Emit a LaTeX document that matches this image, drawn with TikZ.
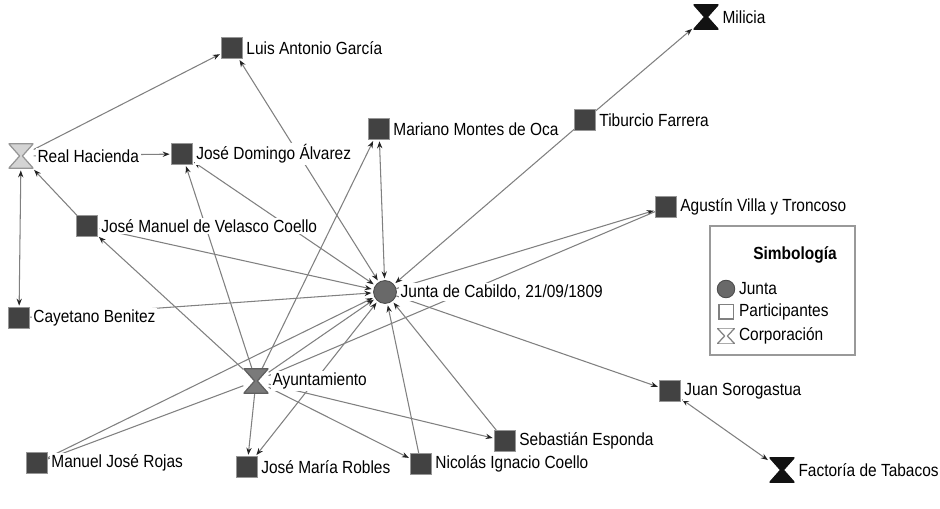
\documentclass[tikz,border=0pt]{standalone}
\usepackage{fontspec}
\setmainfont{Liberation Sans}[FakeStretch=0.88]
\usetikzlibrary{arrows.meta, positioning, backgrounds}
\definecolor{edgegray}{RGB}{128,128,128}
\definecolor{tipgray}{RGB}{35,35,35}
\definecolor{partfill}{RGB}{66,66,66}
\definecolor{partdraw}{RGB}{150,150,150}
\definecolor{juntafill}{RGB}{105,105,105}
\definecolor{juntadraw}{RGB}{75,75,75}
\definecolor{ayufill}{RGB}{122,122,122}
\definecolor{ayudraw}{RGB}{95,95,95}
\definecolor{hacfill}{RGB}{212,212,212}
\definecolor{hacdraw}{RGB}{150,150,150}
\definecolor{corpdark}{RGB}{18,18,18}
\tikzset{
  partic/.style={rectangle, fill=partfill, draw=partdraw, line width=0.5pt,
    minimum size=11.5pt, inner sep=0pt},
  junta/.style={circle, fill=juntafill, draw=juntadraw, line width=0.5pt,
    minimum size=13pt, inner sep=0pt},
  corp/.style 2 args={rectangle, minimum width=14pt, minimum height=14pt, inner sep=0pt,
    path picture={\filldraw[fill=#1, draw=#2, line width=0.7pt, line join=round]
      (path picture bounding box.north west) -- (path picture bounding box.north east)
      -- ([xshift=0.8pt]path picture bounding box.center)
      -- (path picture bounding box.south east) -- (path picture bounding box.south west)
      -- ([xshift=-0.8pt]path picture bounding box.center) -- cycle;}},
  lbl/.style={fill=white, inner sep=1pt, font=\fontsize{10}{12}\selectfont},
  link/.style={draw=edgegray, line width=0.6pt},
  arrow/.style={link, -{Stealth[length=4pt, width=3pt, color=tipgray]}, shorten >=1pt},
  twoway/.style={link, {Stealth[length=4pt, width=3pt, color=tipgray]}-{Stealth[length=4pt, width=3pt, color=tipgray]},
    shorten >=1pt, shorten <=1pt},
}

\begin{document}
\begin{tikzpicture}[x=0.02cm, y=-0.02cm]

  \useasboundingbox (0,0) rectangle (940,509);

  % Nodes
  \node[partic] (lag) at (232,48)  {};
  \node[lbl, right=1pt of lag] (lag-l) {Luis Antonio García};
  \node[corp={corpdark}{corpdark}] (mil) at (706,17) {};
  \node[lbl, right=1pt of mil] (mil-l) {Milicia};
  \node[corp={hacfill}{hacdraw}] (rh) at (21,156) {};
  \node[lbl, right=1pt of rh] (rh-l) {Real Hacienda};
  \node[partic] (jda) at (182,154) {};
  \node[lbl, right=1pt of jda] (jda-l) {José Domingo Álvarez};
  \node[partic] (mar) at (379,129) {};
  \node[lbl, right=1pt of mar] (mar-l) {Mariano Montes de Oca};
  \node[partic] (tib) at (585,120) {};
  \node[lbl, right=1pt of tib] (tib-l) {Tiburcio Farrera};
  \node[partic] (agu) at (666,207) {};
  \node[lbl, right=1pt of agu] (agu-l) {Agustín Villa y Troncoso};
  \node[partic] (vel) at (87,226)  {};
  \node[lbl, right=1pt of vel] (vel-l) {José Manuel de Velasco Coello};
  \node[junta] (jun) at (385,292) {};
  \node[lbl, right=1pt of jun] (jun-l) {Junta de Cabildo, 21/09/1809};
  \node[partic] (cay) at (19,318)  {};
  \node[lbl, right=1pt of cay] (cay-l) {Cayetano Benitez};
  \node[corp={ayufill}{ayudraw}] (ayu) at (256,381) {};
  \node[lbl, right=1pt of ayu] (ayu-l) {Ayuntamiento};
  \node[partic] (jua) at (670,391) {};
  \node[lbl, right=1pt of jua] (jua-l) {Juan Sorogastua};
  \node[partic] (seb) at (505,441) {};
  \node[lbl, right=1pt of seb] (seb-l) {Sebastián Esponda};
  \node[partic] (mjr) at (37,463)  {};
  \node[lbl, right=1pt of mjr] (mjr-l) {Manuel José Rojas};
  \node[partic] (rob) at (247,467) {};
  \node[lbl, right=1pt of rob] (rob-l) {José María Robles};
  \node[partic] (nic) at (421,464) {};
  \node[lbl, right=1pt of nic] (nic-l) {Nicolás Ignacio Coello};
  \node[corp={corpdark}{corpdark}] (fac) at (782,470) {};
  \node[lbl, right=1pt of fac] (fac-l) {Factoría de Tabacos};

  % Legend
  \node[draw=gray!80, line width=0.6pt, minimum width=2.9cm, minimum height=2.58cm] (leg) at (782.5,290.5) {};
  \node[lbl, font=\fontsize{10}{12}\selectfont\bfseries] (leg-t) at (795,255) {Simbología};
  \node[junta, minimum size=10pt] (leg-j) at (726,289) {};
  \node[lbl, right=1pt of leg-j] (leg-jl) {Junta};
  \node[rectangle, draw=gray, line width=0.6pt, minimum size=8pt, inner sep=0pt] (leg-p) at (726,312) {};
  \node[lbl, right=2pt of leg-p] (leg-pl) {Participantes};
  \node[corp={white}{gray}, minimum width=10pt, minimum height=9pt] (leg-c) at (726,336) {};
  \node[lbl, right=1pt of leg-c] (leg-cl) {Corporación};

  % Arrows
  \begin{scope}[on background layer]
    \fill[white] (0,0) rectangle (940,509);
    \foreach \a/\b in {rh/lag, rh/jda, vel/rh, tib/mil, tib/jun, cay/jun, mjr/jun, ayu/jun,
                       nic/jun, seb/jun, jun/agu, jun/jua, ayu/vel, ayu/jda, ayu/mar,
                       ayu/rob, ayu/seb, ayu/nic}{
      \draw[arrow] (\a) -- (\b);
    }
    \foreach \a/\b in {rh/cay, lag/jun, jda/jun, mar/jun, vel/jun, rob/jun, jua/fac}{
      \draw[twoway] (\a) -- (\b);
    }
    \foreach \a/\b in {ayu/agu, ayu/mjr}{
      \draw[link] (\a) -- (\b);
    }
  \end{scope}

\end{tikzpicture}
\end{document}
